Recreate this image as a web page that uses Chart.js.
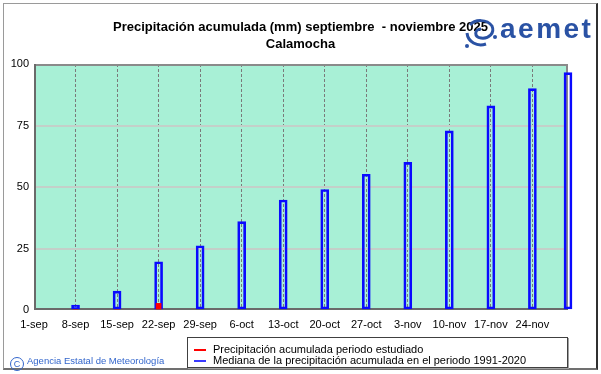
<!DOCTYPE html>
<html>
<head>
<meta charset="utf-8">
<script src="https://cdn.jsdelivr.net/npm/chart.js@4"></script>
<style>
  body { margin: 0; background: #fff; font-family: Arial, "Liberation Sans", sans-serif; }
  #wrap { position: relative; width: 601px; height: 374px; overflow: hidden; }
  #frame { position: absolute; left: 3px; top: 3px; width: 592px; height: 364px;
           border-top: 1px solid #9a9a9a; border-left: 1px solid #9a9a9a;
           border-right: 2px solid #303030; border-bottom: 2px solid #707070; }
  canvas { position: absolute; left: 0; top: 0; }
  #title { position: absolute; left: 0; top: 18px; width: 601px; text-align: center;
           font-weight: bold; font-size: 13px; line-height: 17px; color: #000; }
  #logo svg { position: absolute; left: 463px; top: 17px; }
  #logo span { position: absolute; left: 500px; top: 15px; font: bold 28px/28px Arial, "Liberation Sans", sans-serif;
               color: #2a52a4; letter-spacing: 2.5px; }
  #credit { position: absolute; left: 10px; top: 355px; font-size: 9.5px; color: #3366cc; white-space: nowrap; }
  #credit b { display: inline-block; width: 12px; height: 12px; border: 1px solid #3366cc; border-radius: 50%;
              font-weight: normal; font-size: 9px; line-height: 12px; text-align: center; margin-right: 3px; vertical-align: -3px; }
  #legend { position: absolute; left: 187px; top: 337px; width: 379px; height: 29px;
            border: 1px solid #404040; box-shadow: 1px 1px 0 #a0a0a0; font-size: 11px; background: #fff; }
  #legend div { position: absolute; left: 25px; white-space: nowrap; color: #000; }
  #legend i { position: absolute; left: -19px; top: 6px; width: 12px; height: 2px; }
</style>
</head>
<body>
<div id="wrap">
  <div id="frame"></div>
  <canvas id="chart" width="601" height="374"></canvas>
  <div id="title">Precipitación acumulada (mm) septiembre&nbsp; - noviembre 2025<br>Calamocha</div>
  <div id="logo">
    <svg width="34" height="34" viewBox="0 0 34 34">
      <g fill="none" stroke="#2a52a4" stroke-width="3">
        <path d="M7 8 C12 2, 24 2, 29 9 C32 16, 26 22, 18 21 C11 20, 11 12, 18 12"/>
        <path d="M4 16 C5 25, 14 30, 23 27"/>
      </g>
      <circle cx="4" cy="29" r="2" fill="#2a52a4"/>
      <circle cx="32" cy="20" r="2" fill="#2a52a4"/>
    </svg>
    <span>aemet</span>
  </div>
  <div id="credit"><b>C</b>Agencia Estatal de Meteorología</div>
  <div id="legend">
    <div style="top:5px"><i style="background:#ff0000"></i>Precipitación acumulada periodo estudiado</div>
    <div style="top:16px"><i style="background:#3a3aff"></i>Mediana de la precipitación acumulada en el periodo 1991-2020</div>
  </div>
</div>
<script>
// weekly tick labels on the x axis
const weekTicks = ["1-sep", "8-sep", "15-sep", "22-sep", "29-sep", "6-oct", "13-oct",
                   "20-oct", "27-oct", "3-nov", "10-nov", "17-nov", "24-nov"];

// median 1991-2020 (blue hollow bars)
const medianDates = ["8-sep", "15-sep", "22-sep", "29-sep", "6-oct", "13-oct", "20-oct",
                     "27-oct", "3-nov", "10-nov", "17-nov", "24-nov", "30-nov"];
const medianValues = [2, 7.7, 19.6, 26.1, 35.9, 44.7, 49, 55.2, 60, 72.8, 83, 90, 96.5];

// observed this period (red)
const observedDates = ["8-sep", "15-sep", "22-sep"];
const observedValues = [0, 0, 2.7];

const yTicks = [0, 25, 50, 75, 100];

// one category per day, 1-sep .. 30-nov
const monthNames = ["sep", "oct", "nov"];
const dayLabels = [];
for (let d = new Date(2025, 8, 1); d <= new Date(2025, 10, 30); d.setDate(d.getDate() + 1)) {
    dayLabels.push(d.getDate() + "-" + monthNames[d.getMonth() - 8]);
}

const plotBackground = {
    id: 'plotBackground',
    beforeDraw(chart) {
        const { ctx, chartArea: a } = chart;
        ctx.save();
        ctx.fillStyle = '#a8f0d6';
        ctx.fillRect(a.left, a.top, a.right - a.left, a.bottom - a.top);
        ctx.restore();
    },
    beforeDatasetsDraw(chart) {
        const { ctx, chartArea: a } = chart;
        ctx.save();
        ctx.lineWidth = 2;
        ctx.strokeStyle = '#8a8a8a';
        ctx.beginPath();
        ctx.moveTo(a.left, a.top + 1); ctx.lineTo(a.right, a.top + 1);
        ctx.moveTo(a.right - 1, a.top); ctx.lineTo(a.right - 1, a.bottom);
        ctx.stroke();
        ctx.strokeStyle = '#6a6a6a';
        ctx.beginPath();
        ctx.moveTo(a.left + 1, a.top); ctx.lineTo(a.left + 1, a.bottom);
        ctx.moveTo(a.left, a.bottom - 1); ctx.lineTo(a.right, a.bottom - 1);
        ctx.stroke();
        ctx.restore();
    }
};

document.addEventListener("DOMContentLoaded", () => {
    const ctx = document.getElementById('chart').getContext('2d');

    new Chart(ctx, {
        type: 'bar',
        data: {
            labels: dayLabels,
            datasets: [{
                label: 'Precipitación acumulada periodo estudiado',
                data: observedDates.map((d, i) => ({ x: d, y: observedValues[i] })),
                backgroundColor: '#ff0000',
                borderWidth: 0,
                barThickness: 5,
                grouped: false,
                order: 0
            }, {
                label: 'Mediana de la precipitación acumulada en el periodo 1991-2020',
                data: medianDates.map((d, i) => ({ x: d, y: medianValues[i] })),
                backgroundColor: 'rgba(0,0,0,0)',
                borderColor: '#0a0aff',
                borderWidth: 2,
                borderSkipped: false,
                barThickness: 8,
                grouped: false,
                clip: false,
                order: 1
            }]
        },
        options: {
            responsive: false,
            animation: false,
            devicePixelRatio: 1,
            layout: { padding: { top: 64, right: 33, left: 0, bottom: 44 } },
            plugins: {
                legend: { display: false },
                title: { display: false },
                tooltip: { enabled: false }
            },
            scales: {
                x: {
                    offset: false,
                    grid: {
                        offset: false,
                        drawTicks: false,
                        lineWidth: 1,
                        color: (c) => {
                            const lab = dayLabels[c.index];
                            return c.index > 0 && c.index < dayLabels.length - 1 && weekTicks.includes(lab) ? '#7a7a7a' : 'rgba(0,0,0,0)';
                        }
                    },
                    border: { display: false, dash: [3, 2] },
                    ticks: {
                        autoSkip: false,
                        maxRotation: 0,
                        padding: 8,
                        color: '#000',
                        font: { family: 'Arial, "Liberation Sans"', size: 11 },
                        callback: (v, i) => weekTicks.includes(dayLabels[i]) ? dayLabels[i] : ''
                    },
                    afterFit: (s) => { s.height = 20; }
                },
                y: {
                    min: 0,
                    max: 100,
                    afterBuildTicks: (s) => { s.ticks = yTicks.map(v => ({ value: v })); },
                    grid: {
                        drawTicks: false,
                        lineWidth: 2,
                        color: (c) => (c.tick && c.tick.value > 0 && c.tick.value < 100) ? '#c4cfc9' : 'rgba(0,0,0,0)'
                    },
                    border: { display: false },
                    ticks: {
                        padding: 5,
                        color: '#000',
                        font: { family: 'Arial, "Liberation Sans"', size: 11 }
                    },
                    afterFit: (s) => { s.width = 34; }
                }
            }
        },
        plugins: [plotBackground]
    });
});
</script>
</body>
</html>
